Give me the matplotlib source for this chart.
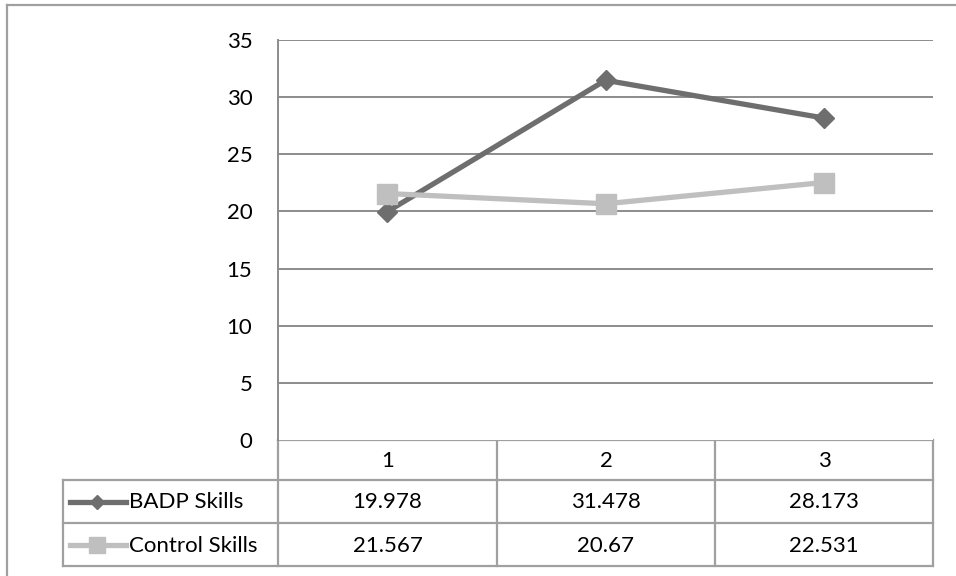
import matplotlib.pyplot as plt
from matplotlib.lines import Line2D

# Scores per session
sessions = [1, 2, 3]
badp_skills = [19.978, 31.478, 28.173]
control_skills = [21.567, 20.67, 22.531]
series_names = ['BADP Skills', 'Control Skills']
yticks = [0, 5, 10, 15, 20, 25, 30, 35]

W, H = 956, 576
grid_col = '#8c8c8c'
edge_col = '#a0a0a0'
dark = '#6e6e6e'
light = '#bfbfbf'
fs = 16
plt.rcParams['font.family'] = ['Lato', 'DejaVu Sans']

fig = plt.figure(figsize=(W / 100, H / 100), dpi=100)

# plot area in pixel coordinates
px_l, px_r, px_t, px_b = 278, 933, 40, 440
ax = fig.add_axes([px_l / W, 1 - px_b / H, (px_r - px_l) / W, (px_b - px_t) / H])
ax.set_xlim(0.5, 3.5)
ax.set_ylim(0, 35)
ax.set_yticks(yticks)
for y in yticks[1:]:
    ax.axhline(y, color=grid_col, lw=1.4, zorder=1)
for s in ['top', 'right', 'bottom']:
    ax.spines[s].set_visible(False)
ax.spines['left'].set_color(grid_col)
ax.spines['left'].set_linewidth(1.4)
ax.tick_params(axis='y', length=0, labelsize=fs, pad=18.5)
ax.set_xticks([])

ax.plot(sessions, badp_skills, color=dark, lw=3.8, marker='D', ms=10.5,
        zorder=3, clip_on=False)
ax.plot(sessions, control_skills, color=light, lw=3.8, marker='s', ms=15,
        zorder=3, clip_on=False)

# overlay axes in pixel units for the frame and the data table
ov = fig.add_axes([0, 0, 1, 1], zorder=-1)
ov.set_xlim(0, W)
ov.set_ylim(H, 0)
ov.axis('off')

# outer frame (top and left visible)
ov.plot([7, 7], [5, H], color=edge_col, lw=1.6)
ov.plot([7, W], [5, 5], color=edge_col, lw=1.6)

tab_l = 63
col_x = [278, 497, 715, 933]
row_y = [440, 480, 523, 566]
ov.plot([col_x[0], col_x[-1]], [row_y[0], row_y[0]], color=edge_col, lw=1.6)
for y in row_y[1:]:
    ov.plot([tab_l, col_x[-1]], [y, y], color=edge_col, lw=1.6)
ov.plot([tab_l, tab_l], [row_y[1], row_y[-1]], color=edge_col, lw=1.6)
for x in col_x:
    ov.plot([x, x], [row_y[0], row_y[-1]], color=edge_col, lw=1.6)

for i, s in enumerate(sessions):
    cx = (col_x[i] + col_x[i + 1]) / 2
    ov.text(cx, (row_y[0] + row_y[1]) / 2 + 1, str(s), ha='center', va='center', fontsize=fs)
    ov.text(cx, (row_y[1] + row_y[2]) / 2 + 1, str(badp_skills[i]), ha='center', va='center', fontsize=fs)
    ov.text(cx, (row_y[2] + row_y[3]) / 2 + 1, str(control_skills[i]), ha='center', va='center', fontsize=fs)

# legend keys inside the row headers
keys = [(dark, 'D', 7.5), (light, 's', 11)]
for j, (name, (c, m, ms)) in enumerate(zip(series_names, keys)):
    cy = (row_y[j + 1] + row_y[j + 2]) / 2
    ov.add_line(Line2D([70, 126], [cy, cy], color=c, lw=3.8))
    ov.add_line(Line2D([97], [cy], color=c, marker=m, ms=ms, lw=0))
    ov.text(129, cy + 1, name, ha='left', va='center', fontsize=fs)

fig.savefig('out.png', dpi=100)
